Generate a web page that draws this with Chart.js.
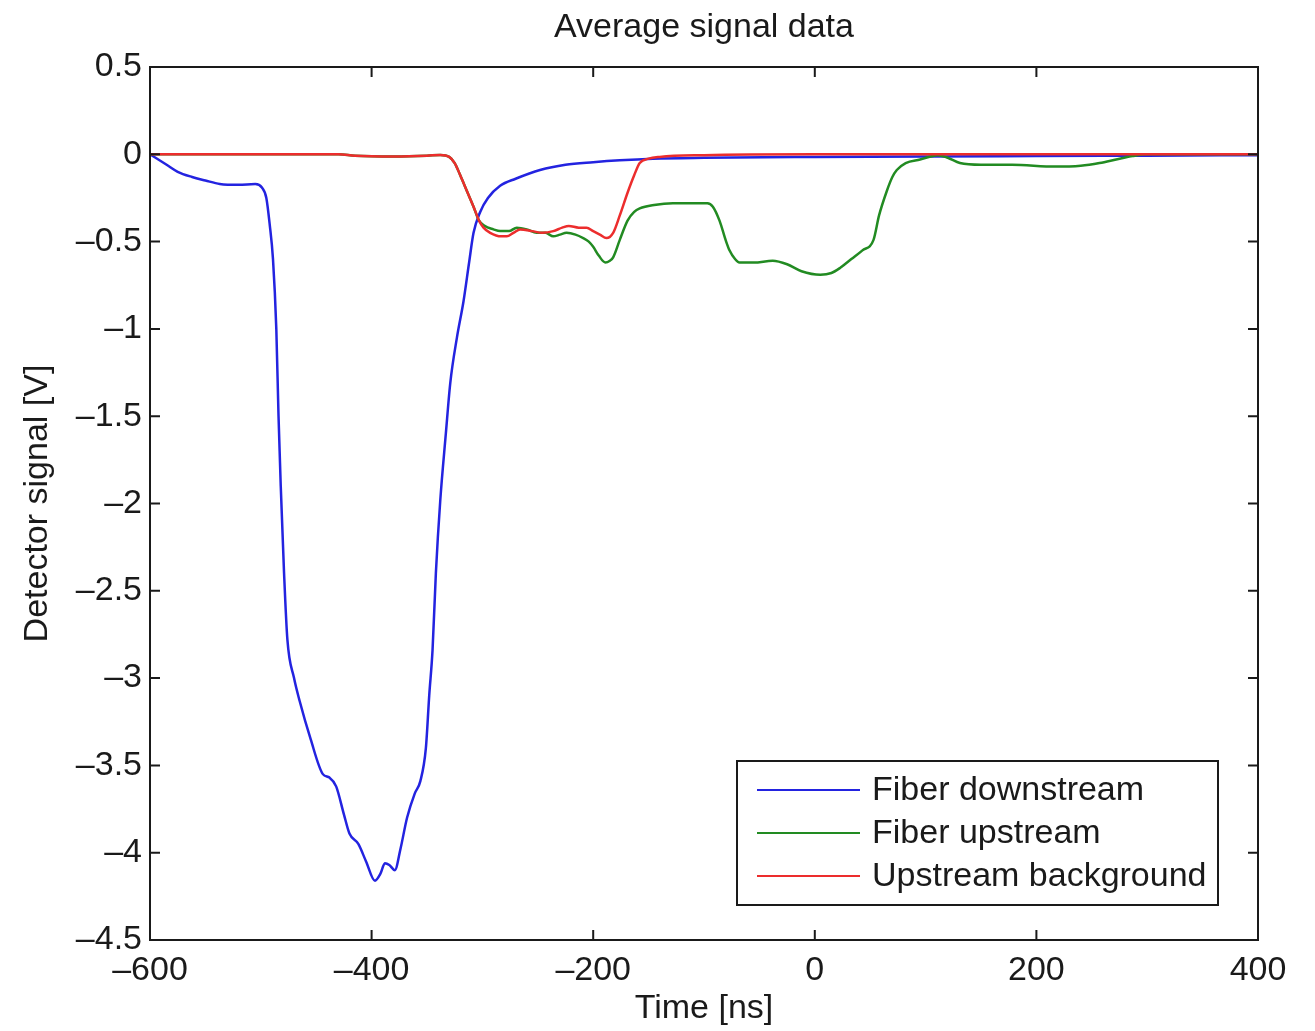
<!DOCTYPE html>
<html>
<head>
<meta charset="utf-8">
<title>Average signal data</title>
<script src="https://cdn.jsdelivr.net/npm/chart.js@4.4.1/dist/chart.umd.min.js"></script>
<style>
	html, body { margin: 0; padding: 0; background: #fff; }
</style>
</head>
<body>
<canvas id="grafica_senal" width="1315" height="1031"></canvas>
<script>
// Ticks
const xTicks = [-600, -400, -200, 0, 200, 400];
const yTicks = [0.5, 0, -0.5, -1, -1.5, -2, -2.5, -3, -3.5, -4, -4.5];

// Fiber downstream (azul)
const tDown = [-600, -595, -585, -575, -562, -550, -537, -520, -505, -499, -495, -492, -489, -486, -484, -482, -479, -476, -470, -465, -455, -444, -438, -432, -425, -420, -412, -405, -397, -392, -388, -384, -379, -374, -368, -361, -356, -351, -348, -345, -342, -338, -333, -329, -323, -317, -312, -308, -302, -295, -284, -270, -248, -225, -200, -176, -146, -100, 0, 100, 200, 300, 400];
const vDown = [0, -0.02, -0.06, -0.1, -0.13, -0.15, -0.17, -0.175, -0.17, -0.19, -0.25, -0.4, -0.6, -1.0, -1.5, -1.9, -2.4, -2.78, -3.0, -3.13, -3.35, -3.55, -3.57, -3.62, -3.78, -3.89, -3.95, -4.05, -4.16, -4.12, -4.06, -4.07, -4.1, -3.98, -3.8, -3.66, -3.59, -3.4, -3.1, -2.84, -2.4, -1.98, -1.6, -1.31, -1.05, -0.84, -0.62, -0.45, -0.33, -0.25, -0.18, -0.14, -0.09, -0.06, -0.045, -0.034, -0.025, -0.02, -0.015, -0.012, -0.01, -0.008, -0.005];

// Fiber upstream (verde)
const tUp = [-600, -500, -430, -415, -380, -350, -338, -330, -325, -320, -314, -308, -303, -298, -290, -284, -276, -269, -260, -251, -243, -236, -230, -224, -216, -209, -204, -200, -195, -189, -185, -182, -176, -169, -163, -158, -145, -128, -110, -97, -92, -86, -80, -77, -72, -68, -55, -38, -25, -12, 5, 15, 23, 33, 43, 53, 58, 65, 70, 74, 82, 95, 111, 120, 131, 150, 178, 217, 240, 257, 272, 287, 300, 400];
const vUp = [0, 0, 0, -0.008, -0.012, -0.008, -0.004, -0.015, -0.05, -0.12, -0.21, -0.3, -0.38, -0.41, -0.43, -0.44, -0.44, -0.42, -0.43, -0.45, -0.45, -0.47, -0.46, -0.45, -0.46, -0.48, -0.5, -0.53, -0.58, -0.62, -0.61, -0.59, -0.49, -0.38, -0.33, -0.31, -0.29, -0.28, -0.28, -0.28, -0.3, -0.38, -0.5, -0.55, -0.6, -0.62, -0.62, -0.61, -0.63, -0.67, -0.69, -0.68, -0.65, -0.6, -0.55, -0.49, -0.35, -0.21, -0.13, -0.09, -0.05, -0.03, -0.005, -0.02, -0.05, -0.06, -0.06, -0.07, -0.065, -0.05, -0.03, -0.01, 0, 0];

// Upstream background (rojo)
const tBg = [-600, -500, -430, -415, -380, -350, -338, -330, -325, -320, -314, -308, -303, -299, -293, -283, -278, -272, -266, -255, -246, -236, -228, -222, -213, -206, -200, -194, -188, -182, -176, -169, -163, -158, -150, -140, -100, 0, 400];
const vBg = [0, 0, 0, -0.008, -0.012, -0.008, -0.004, -0.015, -0.05, -0.12, -0.21, -0.3, -0.38, -0.42, -0.45, -0.47, -0.47, -0.45, -0.43, -0.44, -0.45, -0.44, -0.42, -0.41, -0.42, -0.42, -0.44, -0.46, -0.48, -0.45, -0.35, -0.22, -0.12, -0.05, -0.025, -0.015, -0.005, 0, 0];

const puntos = (t, v) => t.map((x, i) => ({x: x, y: v[i]}));
const fuente = '"Liberation Sans", Arial, Helvetica, sans-serif';
const tinta = '#1a1a1a';
const menos = (v) => String(v).replace('-', '\u2013');

//Ticks hacia dentro, marco y leyenda
const marcoEjes = {
	id: 'marcoEjes',
	afterDatasetsDraw(chart) {
		const {ctx, chartArea: a, scales: {x, y}} = chart;
		ctx.save();
		ctx.strokeStyle = tinta;
		ctx.lineWidth = 2;
		ctx.beginPath();
		xTicks.forEach(v => {
			const px = x.getPixelForValue(v);
			ctx.moveTo(px, a.bottom); ctx.lineTo(px, a.bottom - 10);
			ctx.moveTo(px, a.top); ctx.lineTo(px, a.top + 10);
		});
		yTicks.forEach(v => {
			const py = y.getPixelForValue(v);
			ctx.moveTo(a.left, py); ctx.lineTo(a.left + 10, py);
			ctx.moveTo(a.right, py); ctx.lineTo(a.right - 10, py);
		});
		ctx.stroke();
		ctx.strokeRect(a.left, a.top, a.right - a.left, a.bottom - a.top);

		// leyenda
		const w = 481, h = 144;
		const bx = a.right - 40 - w, by = a.bottom - 35 - h;
		ctx.fillStyle = '#fff';
		ctx.fillRect(bx, by, w, h);
		ctx.strokeRect(bx, by, w, h);
		ctx.font = '34px ' + fuente;
		ctx.textBaseline = 'middle';
		ctx.textAlign = 'left';
		chart.data.datasets.forEach((ds, i) => {
			const ry = by + 29 + i * 43;
			ctx.strokeStyle = ds.borderColor;
			ctx.lineWidth = 2;
			ctx.beginPath();
			ctx.moveTo(bx + 20, ry); ctx.lineTo(bx + 123, ry);
			ctx.stroke();
			ctx.fillStyle = tinta;
			ctx.fillText(ds.label, bx + 135, ry + 1);
		});
		ctx.restore();
	}
};

const canvas = document.getElementById('grafica_senal');
const chart = new Chart(canvas.getContext('2d'), {
	type: 'line',
	data: {
		datasets: [
			{ label: 'Fiber downstream', data: puntos(tDown, vDown), borderColor: '#2323e0', order: 2 },
			{ label: 'Fiber upstream', data: puntos(tUp, vUp), borderColor: '#228b22', order: 1 },
			{ label: 'Upstream background', data: puntos(tBg, vBg), borderColor: '#ec2d2d', order: 0 }
		]
	},
	options: {
		responsive: false,
		animation: false,
		devicePixelRatio: 1,
		layout: { padding: { top: 0, right: 57, bottom: 0, left: 0 } },
		elements: {
			point: { radius: 0 },
			line: { borderWidth: 2.5, cubicInterpolationMode: 'monotone', fill: false }
		},
		plugins: {
			legend: { display: false },
			tooltip: { enabled: false },
			title: {
				display: true,
				fullSize: false,
				text: 'Average signal data',
				color: tinta,
				font: { family: fuente, size: 34, weight: 'normal', lineHeight: 1.2 },
				padding: { top: 7, bottom: 19.2 }
			}
		},
		scales: {
			x: {
				type: 'linear',
				min: -600, max: 400,
				afterBuildTicks: s => { s.ticks = xTicks.map(v => ({value: v})); },
				afterFit: s => { s.height = 91; },
				grid: { display: false, drawTicks: false },
				border: { display: false },
				ticks: {
					padding: 10, color: tinta, maxRotation: 0,
					font: { family: fuente, size: 34 },
					callback: v => menos(v)
				},
				title: {
					display: true, text: 'Time [ns]', color: tinta,
					font: { family: fuente, size: 34, lineHeight: 1.2 },
					padding: { top: 0, bottom: 2 }
				}
			},
			y: {
				min: -4.5, max: 0.5,
				afterBuildTicks: s => { s.ticks = yTicks.map(v => ({value: v})); },
				afterFit: s => { s.width = 150; },
				grid: { display: false, drawTicks: false },
				border: { display: false },
				ticks: {
					padding: 8, color: tinta,
					font: { family: fuente, size: 34 },
					callback: v => menos(v)
				},
				title: {
					display: true, text: 'Detector signal [V]', color: tinta,
					font: { family: fuente, size: 34, lineHeight: 1.2 },
					padding: { top: 17, bottom: 0 }
				}
			}
		}
	},
	plugins: [marcoEjes]
});
</script>
</body>
</html>
